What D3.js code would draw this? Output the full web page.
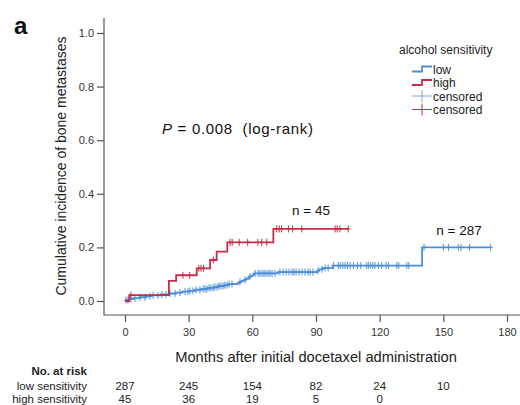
<!DOCTYPE html>
<html>
<head>
<meta charset="utf-8">
<script src="https://cdn.jsdelivr.net/npm/d3@7"></script>
<style>
  body { margin: 0; background: #fff; }
  svg { display: block; font-family: "Liberation Sans", Arial, sans-serif; }
</style>
</head>
<body>
<div id="chart"></div>
<script>
// Cumulative incidence step curves: [months, cumulative incidence]
const lowSteps = [
  [0, 0], [0.5, 0.0035], [2, 0.007], [4, 0.0105], [7, 0.014], [10, 0.0175], [12, 0.021],
  [17, 0.0245], [21, 0.028], [24, 0.031], [27, 0.035], [30, 0.038], [33, 0.042], [36, 0.045],
  [39, 0.049], [42, 0.052], [44, 0.056], [47, 0.059], [49, 0.063], [53, 0.067], [54, 0.071],
  [55, 0.075], [56, 0.079], [57, 0.083], [58, 0.087], [58.7, 0.091], [59.5, 0.095], [60.3, 0.099],
  [61, 0.103], [72, 0.108], [90.5, 0.113], [91.5, 0.118], [93, 0.123], [98, 0.132], [140, 0.2],
  [172.3, 0.2]
];
const highSteps = [
  [0, 0], [2, 0.022], [20.7, 0.075], [24.1, 0.096], [33.8, 0.122], [40.1, 0.153],
  [43.2, 0.184], [48.2, 0.219], [69.9, 0.269], [105.2, 0.269]
];

// censoring times (months)
const lowCensored = [
  0.5, 1.4, 2.8, 4.7, 7.1, 9.4, 11.8, 13.2, 15.6, 17.4, 19.3, 21.2, 23.6, 25.9, 28.3, 29.7,
  30.6, 32, 33.5, 35.3, 36.8, 37.7, 38.6, 39.6, 40.5, 41.5, 42.4, 43.4, 44.3, 45.2, 46.2, 47.1,
  48.1, 49, 50.4, 54.2, 56.6, 58.9, 61.3, 62.7, 63.6, 64.6, 65.5, 66.4, 67.4, 68.3, 69.3, 70.7,
  73, 74.5, 75.9, 77.3, 78.7, 79.6, 80.6, 82, 83.4, 84.8, 86.2, 87.2, 88.6, 91, 92.8, 94.3, 95.7,
  98.2, 100.5, 101.4, 102.6, 103.7, 104.8, 106.1, 107.6, 109.5, 111.1, 113.9, 114.7, 115.8,
  116.8, 117.8, 119.4, 121, 123, 124.1, 128.1, 129, 132.8, 133.7,
  140.9, 150, 152.4, 157, 158.3, 162.3, 172.3
];
const highCensored = [
  2.8, 27.3, 30.5, 34.8, 35.8, 37, 41.6, 49.5, 50.5, 53.8, 57.8, 62.6, 64.4, 66.8,
  71.5, 72.7, 73.8, 77, 79, 83.3, 99, 100, 101.3, 105.2
];

const xTicks = [0, 30, 60, 90, 120, 150, 180];
const yTicks = [0, 0.2, 0.4, 0.6, 0.8, 1.0];
const riskGroups = ['low sensitivity', 'high sensitivity'];
const riskLow = [287, 245, 154, 82, 24, 10];
const riskHigh = [45, 36, 19, 5, 0];

const colors = { low: '#4d8ed8', high: '#c92c4b' };
const width = 520, height = 405;

const svg = d3.select('#chart').append('svg')
  .attr('width', width).attr('height', height);

const x = d3.scaleLinear().domain([0, 180]).range([125, 507]);
const y = d3.scaleLinear().domain([0, 1]).range([301, 33]);

const axisColor = '#555';

// L-shaped frame
svg.append('path')
  .attr('d', `M104,18V315H520`)
  .attr('fill', 'none').attr('stroke', axisColor).attr('stroke-width', 1.2);

// y axis
const yAxis = svg.append('g').attr('transform', 'translate(104,0)')
  .call(d3.axisLeft(y).tickValues(yTicks).tickFormat(d3.format('.1f')).tickSize(7).tickPadding(3));
yAxis.select('.domain').remove();
yAxis.selectAll('line').attr('stroke', axisColor).attr('stroke-width', 1.2);
yAxis.selectAll('text').attr('fill', '#333').style('font-size', '11px')
  .style('font-family', '"Liberation Sans", Arial, sans-serif');

// x axis
const xAxis = svg.append('g').attr('transform', 'translate(0,315)')
  .call(d3.axisBottom(x).tickValues(xTicks).tickSize(7).tickPadding(6));
xAxis.select('.domain').remove();
xAxis.selectAll('line').attr('stroke', axisColor).attr('stroke-width', 1.2);
xAxis.selectAll('text').attr('fill', '#333').style('font-size', '11px')
  .style('font-family', '"Liberation Sans", Arial, sans-serif');

// axis titles
svg.append('text')
  .attr('transform', 'translate(66,166) rotate(-90)')
  .attr('text-anchor', 'middle').attr('fill', '#222').style('font-size', '14px')
  .text('Cumulative incidence of bone metastases');

svg.append('text')
  .attr('x', 316).attr('y', 362).attr('text-anchor', 'middle')
  .attr('fill', '#222').style('font-size', '14.7px')
  .text('Months after initial docetaxel administration');

// panel letter
svg.append('text').attr('x', 14).attr('y', 34)
  .style('font-size', '24px').style('font-weight', 'bold').attr('fill', '#111').text('a');

// curves
const line = d3.line().x(d => x(d[0])).y(d => y(d[1])).curve(d3.curveStepAfter);

function valueAt(steps, t) {
  let v = 0;
  for (const s of steps) { if (s[0] <= t) v = s[1]; }
  return v;
}

function drawGroup(steps, censored, color) {
  const g = svg.append('g');
  g.append('path').datum(steps).attr('d', line)
    .attr('fill', 'none').attr('stroke', color).attr('stroke-width', 1.8);
  const marks = g.selectAll('g.cens').data(censored).join('g')
    .attr('transform', t => `translate(${x(t)},${y(valueAt(steps, t))})`);
  marks.append('line').attr('y1', -3.5).attr('y2', 3.5)
    .attr('stroke', color).attr('stroke-width', 1);
  marks.append('line').attr('x1', -2).attr('x2', 2)
    .attr('stroke', color).attr('stroke-width', 1);
}

drawGroup(lowSteps, lowCensored, colors.low);
drawGroup(highSteps, highCensored, colors.high);

// annotations
const pText = svg.append('text').attr('x', 162).attr('y', 134)
  .attr('fill', '#111').style('font-size', '15px')
  .attr('textLength', 151).attr('lengthAdjust', 'spacing');
pText.append('tspan').style('font-style', 'italic').text('P');
pText.append('tspan').attr('xml:space', 'preserve').text(' = 0.008  (log-rank)');

svg.append('text').attr('x', 311).attr('y', 215).attr('text-anchor', 'middle')
  .attr('fill', '#111').style('font-size', '13.5px').text('n = 45');
svg.append('text').attr('x', 459).attr('y', 235).attr('text-anchor', 'middle')
  .attr('fill', '#111').style('font-size', '13.5px').text('n = 287');

// legend
const legend = svg.append('g').attr('transform', 'translate(399,0)');
legend.append('text').attr('x', 0).attr('y', 54).attr('fill', '#222')
  .style('font-size', '12px').text('alcohol sensitivity');

const legendItems = [
  { label: 'low', color: colors.low, type: 'step' },
  { label: 'high', color: colors.high, type: 'step' },
  { label: 'censored', color: '#7aa9e0', type: 'cens' },
  { label: 'censored', color: colors.high, type: 'cens' }
];
legendItems.forEach((d, i) => {
  const cy = 69 + i * 13.5;
  const row = legend.append('g').attr('transform', `translate(0,${cy})`);
  if (d.type === 'step') {
    row.append('path').attr('d', 'M13,2.5H23V-2.5H33')
      .attr('fill', 'none').attr('stroke', d.color).attr('stroke-width', 1.8);
  } else {
    row.append('path').attr('d', 'M13,0H33M23,-6V6')
      .attr('fill', 'none').attr('stroke', d.color).attr('stroke-width', 1);
  }
  row.append('text').attr('x', 34).attr('y', 4.5).attr('fill', '#222')
    .style('font-size', '12px').text(d.label);
});

// numbers at risk
const risk = svg.append('g').style('font-size', '11.5px').attr('fill', '#222');
risk.append('text').attr('x', 87).attr('y', 375).attr('text-anchor', 'end')
  .style('font-weight', 'bold').text('No. at risk');
[riskLow, riskHigh].forEach((vals, i) => {
  const yy = 390 + i * 12.5;
  risk.append('text').attr('x', 87).attr('y', yy).attr('text-anchor', 'end').text(riskGroups[i]);
  vals.forEach((v, j) => {
    risk.append('text').attr('x', x(xTicks[j])).attr('y', yy)
      .attr('text-anchor', 'middle').text(v);
  });
});
</script>
</body>
</html>
